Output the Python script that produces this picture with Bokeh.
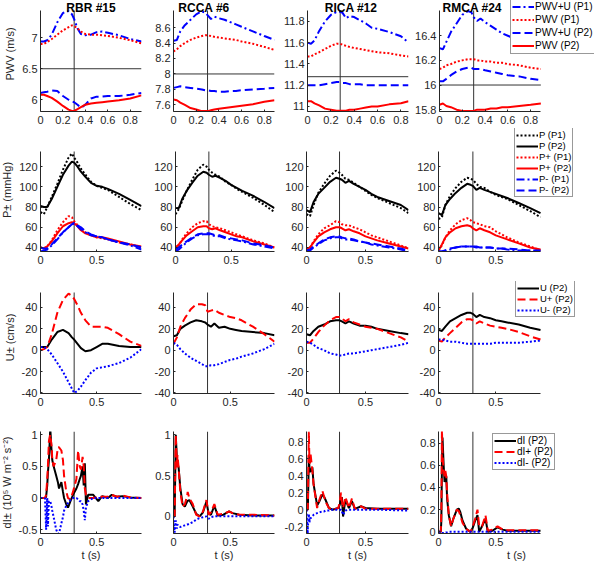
from bokeh.plotting import figure
from bokeh.layouts import row, column
from bokeh.models import (Range1d, FixedTicker, CustomJSTickFormatter, Label,
                          Legend, LegendItem)
from bokeh.embed import file_html
from bokeh.resources import INLINE

# ---------------- data ----------------
NAMES = ["RBR #15", "RCCA #6", "RICA #12", "RMCA #24"]
T_END = [0.9, 0.89, 0.865, 0.89]
T_MARK = [0.3, 0.3, 0.28, 0.3]
T_GRID = [0, .03, .06, .1, .15, .2, .25, .28, .3, .33, .36, .4, .45, .5, .55, .6, .7, .8]

# Row 1: PWV (m/s)
PWV_RANGE = [(5.81, 7.44), (7.515, 8.82), (10.953, 11.902), (15.785, 16.605)]
PWV_TICKS = [[6, 6.5, 7], [7.6, 7.8, 8, 8.2, 8.4, 8.6], [11, 11.2, 11.4, 11.6, 11.8],
             [15.8, 16, 16.2, 16.4]]
PWV_REF = [6.5, 8.0, 11.28, 16.0]
pwvu_p1 = [
    [6.94, 6.94, 6.96, 7.05, 7.25, 7.40, 7.43, 7.38, 7.30, 7.15, 7.06, 7.04, 7.05, 7.09, 7.10, 7.08, 7.04, 6.98, 6.94],
    [8.43, 8.44, 8.55, 8.63, 8.70, 8.77, 8.81, 8.79, 8.76, 8.71, 8.74, 8.72, 8.70, 8.67, 8.64, 8.61, 8.55, 8.49, 8.44],
    [11.60, 11.59, 11.62, 11.71, 11.80, 11.86, 11.89, 11.89, 11.88, 11.83, 11.85, 11.84, 11.81, 11.78, 11.74, 11.73, 11.70, 11.66, 11.60],
    [16.30, 16.29, 16.35, 16.43, 16.50, 16.57, 16.60, 16.59, 16.55, 16.52, 16.54, 16.51, 16.48, 16.45, 16.42, 16.40, 16.36, 16.32, 16.29],
]
pwv_p1 = [
    [6.90, 6.90, 6.93, 6.98, 7.05, 7.12, 7.17, 7.20, 7.19, 7.15, 7.10, 7.06, 7.05, 7.05, 7.04, 7.03, 7.00, 6.96, 6.91],
    [8.29, 8.32, 8.36, 8.40, 8.44, 8.47, 8.49, 8.50, 8.50, 8.49, 8.48, 8.47, 8.46, 8.45, 8.44, 8.42, 8.39, 8.35, 8.31],
    [11.47, 11.47, 11.49, 11.51, 11.54, 11.57, 11.59, 11.59, 11.58, 11.57, 11.56, 11.55, 11.54, 11.53, 11.52, 11.51, 11.50, 11.48, 11.47],
    [16.13, 16.14, 16.16, 16.17, 16.19, 16.20, 16.21, 16.21, 16.21, 16.20, 16.20, 16.19, 16.19, 16.18, 16.18, 16.17, 16.16, 16.14, 16.13],
]
pwvu_p2 = [
    [6.11, 6.12, 6.13, 6.15, 6.14, 6.06, 6.00, 5.97, 5.96, 5.92, 5.87, 5.92, 6.02, 6.05, 6.05, 6.06, 6.06, 6.08, 6.11],
    [7.82, 7.83, 7.84, 7.83, 7.82, 7.81, 7.80, 7.79, 7.79, 7.78, 7.78, 7.77, 7.77, 7.78, 7.78, 7.79, 7.80, 7.81, 7.82],
    [11.20, 11.20, 11.20, 11.20, 11.21, 11.22, 11.23, 11.23, 11.22, 11.22, 11.21, 11.21, 11.21, 11.20, 11.20, 11.20, 11.20, 11.20, 11.20],
    [16.03, 16.03, 16.05, 16.08, 16.11, 16.13, 16.14, 16.14, 16.13, 16.13, 16.13, 16.12, 16.11, 16.10, 16.09, 16.08, 16.07, 16.05, 16.04],
]
pwv_p2 = [
    [6.08, 6.08, 6.06, 6.03, 5.97, 5.90, 5.84, 5.82, 5.82, 5.85, 5.88, 5.92, 5.94, 5.95, 5.96, 5.97, 5.99, 6.02, 6.07],
    [7.67, 7.66, 7.63, 7.60, 7.56, 7.54, 7.52, 7.52, 7.52, 7.53, 7.54, 7.55, 7.56, 7.57, 7.58, 7.59, 7.61, 7.64, 7.66],
    [11.05, 11.05, 11.03, 11.01, 10.98, 10.97, 10.96, 10.96, 10.96, 10.96, 10.97, 10.97, 10.98, 10.99, 11.00, 11.00, 11.02, 11.03, 11.05],
    [15.84, 15.85, 15.83, 15.82, 15.80, 15.79, 15.79, 15.79, 15.79, 15.80, 15.80, 15.80, 15.81, 15.81, 15.82, 15.82, 15.83, 15.84, 15.85],
]

# Row 2: P± (mmHg)
P_RANGE = (36, 135)
P_TICKS = [40, 60, 80, 100, 120]
p_p1 = [
    [75, 73, 80, 90, 103, 117, 129, 133, 129, 124, 118, 112, 105, 101, 99, 97, 90, 83, 77],
    [73, 78, 86, 96, 107, 117, 122, 120, 117, 114, 112, 110, 105, 102, 98, 95, 89, 82, 75],
    [73, 71, 82, 94, 103, 111, 116, 114, 112, 108, 107, 104, 100, 96, 92, 89, 84, 79, 74],
    [68, 70, 82, 91, 99, 105, 109, 108, 107, 103, 100, 99, 95, 92, 90, 88, 82, 76, 70],
]
p_p2 = [
    [81, 80, 80, 88, 100, 112, 121, 125, 124, 120, 115, 110, 104, 101, 100, 98, 93, 87, 81],
    [79, 79, 88, 96, 104, 111, 115, 114, 112, 110, 111, 109, 106, 102, 99, 96, 91, 85, 79],
    [77, 75, 85, 93, 99, 105, 109, 108, 107, 104, 106, 103, 100, 97, 93, 90, 86, 82, 77],
    [74, 72, 82, 88, 94, 99, 103, 102, 101, 97, 99, 97, 95, 93, 91, 89, 84, 79, 74],
]
pf_p1 = [
    [40, 39, 41, 47, 57, 65, 71, 70, 66, 62, 58, 55, 52, 50, 49, 48, 45, 43, 40],
    [38, 42, 48, 54, 60, 64, 66, 66, 63, 61, 60, 59, 57, 55, 53, 51, 47, 44, 40],
    [38, 40, 46, 53, 59, 62, 66, 65, 63, 62, 62, 60, 58, 55, 52, 50, 46, 42, 39],
    [37, 42, 50, 57, 63, 67, 69, 67, 65, 64, 63, 61, 60, 56, 53, 50, 45, 41, 37],
]
pf_p2 = [
    [40, 39, 41, 46, 54, 61, 64, 65, 64, 61, 57, 54, 52, 50, 50, 49, 46, 43, 41],
    [40, 43, 47, 52, 56, 60, 61, 61, 59, 58, 59, 57, 55, 53, 51, 50, 46, 43, 40],
    [38, 40, 45, 51, 55, 58, 60, 60, 59, 57, 58, 56, 54, 51, 49, 47, 44, 41, 39],
    [37, 43, 50, 55, 59, 61, 62, 61, 59, 57, 59, 57, 55, 52, 50, 48, 44, 40, 38],
]
pb_p1 = [
    [36, 37, 38, 42, 48, 55, 60, 63, 64, 61, 58, 55, 52, 51, 50, 48, 45, 42, 38],
    [36, 38, 41, 45, 49, 52, 53, 53, 53, 52, 51, 51, 49, 48, 47, 46, 43, 41, 39],
    [36, 37, 40, 43, 47, 49, 50, 50, 49, 48, 48, 47, 46, 45, 43, 42, 40, 38, 36],
    [36, 36, 37, 38, 40, 41, 41, 41, 41, 40, 40, 40, 40, 39, 39, 38, 37, 37, 36],
]
pb_p2 = [
    [40, 39, 39, 43, 49, 55, 60, 63, 64, 62, 60, 56, 53, 51, 50, 48, 45, 43, 40],
    [38, 40, 43, 46, 50, 53, 54, 54, 54, 53, 52, 52, 50, 49, 48, 47, 44, 42, 40],
    [37, 38, 41, 44, 48, 50, 51, 51, 50, 49, 49, 48, 46, 45, 44, 43, 41, 39, 37],
    [36, 36, 37, 39, 40, 41, 41, 41, 41, 41, 40, 40, 40, 39, 39, 39, 38, 37, 37],
]

# Row 3: U± (cm/s)
U_RANGE = (-40.5, 54)
U_TICKS = [-40, -20, 0, 20, 40]
u_p2 = [
    [3, 3, 3, 10, 17, 19, 16, 12, 10, 6, 2, -1, 0, 3, 6, 6, 4, 3, 3],
    [13, 14, 20, 23, 26, 28, 27, 26, 24, 22, 25, 21, 22, 20, 19, 18, 17, 16, 14],
    [15, 14, 18, 22, 24, 27, 28, 28, 27, 25, 27, 25, 23, 23, 22, 20, 18, 16, 15],
    [19, 18, 22, 27, 30, 33, 35, 35, 34, 31, 33, 31, 30, 28, 27, 26, 24, 21, 19],
]
uf_p2 = [
    [0, 1, 3, 15, 35, 47, 53, 51, 48, 42, 35, 28, 22, 22, 22, 21, 15, 8, 4],
    [6, 12, 22, 30, 38, 43, 43, 42, 36, 37, 38, 35, 33, 31, 30, 28, 22, 15, 8],
    [7, 7, 11, 17, 23, 28, 31, 31, 30, 27, 29, 26, 24, 22, 21, 20, 16, 12, 8],
    [9, 8, 12, 16, 21, 26, 29, 29, 28, 25, 27, 25, 23, 22, 21, 20, 17, 13, 10],
]
ub_p2 = [
    [3, 3, 1, -4, -12, -20, -30, -36, -40, -38, -34, -28, -21, -17, -16, -15, -12, -7, 1],
    [7, 5, 1, -3, -7, -10, -13, -15, -15, -14, -14, -13, -11, -9, -8, -6, -3, 1, 6],
    [8, 7, 5, 2, 0, -3, -4, -5, -5, -4, -3, -3, -2, -1, 0, 1, 3, 5, 7],
    [10, 10, 9, 8, 8, 7, 6, 6, 6, 6, 6, 6, 6, 7, 7, 7, 7, 8, 9],
]

# Row 4: dI± (10^5 W m^-2 s^-2)
DI_RANGE = [(-0.56, 1.05), (-0.21, 1.04), (-0.28, 0.92), (-0.015, 0.905)]
DI_TICKS = [[-0.5, 0, 0.5, 1], [0, 0.5, 1], [-0.2, 0, 0.2, 0.4, 0.6, 0.8],
            [0, 0.2, 0.4, 0.6, 0.8]]
di_t = [
    [0, .04, .05, .06, .066, .075, .087, .1, .105, .117, .14, .155, .165, .186, .2, .21, .23, .245,
     .267, .29, .32, .335, .35, .36, .375, .385, .395, .405, .425, .47, .515, .55, .6, .635, .68,
     .73, .8, .9],
    [0, .01, .015, .02, .03, .035, .045, .06, .08, .1, .12, .125, .14, .17, .2, .23, .26, .29, .31,
     .33, .36, .39, .44, .49, .52, .58, .7, .89],
    [0, .01, .012, .02, .025, .03, .035, .05, .06, .09, .11, .135, .15, .16, .19, .22, .27, .28,
     .293, .3, .31, .33, .36, .385, .41, .465, .5, .6, .865],
    [0, .02, .025, .03, .035, .045, .053, .06, .068, .075, .09, .1, .11, .13, .16, .176, .19, .21,
     .24, .25, .28, .3, .32, .34, .355, .38, .41, .43, .47, .515, .56, .6, .89],
]
di_p2 = [
    [0, 0, 0.02, 0.2, 0.4, 0.6, 1.1, 0.7, 0.6, 0.5, 0.35, 0.25, 0.15, 0.25, 0.1, 0.0, -0.1, -0.15,
     -0.05, 0.05, 0.15, 0.22, 0.3, 0.35, 0.5, 0.2, 0.55, -0.1, 0.05, 0.05, -0.05, 0.03, 0.0, 0.05,
     0.02, 0.03, 0.01, 0],
    [0, 0, 0.5, 1.0, 0.7, 0.65, 0.6, 0.35, 0.15, 0.12, 0.18, 0.19, 0.2, 0.12, 0.03, 0.0, 0.05, 0.18,
     0.03, 0.02, 0.13, 0.01, 0.02, 0.06, 0.04, 0.02, 0.01, 0.01],
    [0, 0, 0.05, 0.63, 0.5, 0.45, 0.45, 0.5, 0.3, 0.05, 0.1, 0.18, 0.15, 0.12, 0.02, 0.0, 0.02, 0.05,
     0.12, 0.15, -0.08, 0.12, 0.02, 0.1, 0.01, 0.04, 0.02, 0.01, 0.01],
    [0, 0, 0.1, 0.6, 0.85, 0.6, 0.45, 0.48, 0.5, 0.3, 0.15, 0.1, 0.05, 0.12, 0.2, 0.21, 0.18, 0.1,
     0.03, 0.02, 0.0, 0.04, 0.1, 0.15, 0.0, 0.05, 0.12, 0.0, 0.01, 0.04, 0.02, 0.01, 0.01],
]
dif_p2 = [
    [0, 0, 0.05, 0.3, 0.5, 0.9, 1.0, 0.8, 0.6, 0.5, 0.6, 0.8, 0.8, 0.75, 0.6, 0.35, 0.1, 0.0,
     -0.02, 0.1, 0.3, 0.75, 0.5, 0.45, 0.65, 0.5, 0.15, 0.05, 0.0, 0.0, 0.02, 0.02, 0.02, 0.05,
     0.02, 0.04, 0.01, 0],
    [0, 0, 0.5, 1.0, 0.6, 0.75, 0.6, 0.3, 0.12, 0.15, 0.25, 0.3, 0.22, 0.15, 0.02, 0.0, 0.06, 0.2,
     0.02, 0.05, 0.15, 0.02, 0.03, 0.06, 0.04, 0.02, 0.02, 0.01],
    [0, 0, 0.1, 0.92, 0.55, 0.55, 0.65, 0.45, 0.3, 0.02, 0.12, 0.22, 0.15, 0.1, 0.02, 0.0, 0.02,
     0.08, 0.2, 0.1, 0.02, 0.15, 0.02, 0.13, 0.01, 0.04, 0.01, 0.01, 0.01],
    [0, 0, 0.2, 0.92, 0.7, 0.55, 0.5, 0.55, 0.5, 0.35, 0.15, 0.1, 0.05, 0.12, 0.2, 0.19, 0.15, 0.08,
     0.03, 0.02, 0.0, 0.05, 0.12, 0.2, 0.05, 0.05, 0.15, 0.01, 0.02, 0.05, 0.02, 0.015, 0.015],
]
dib_p2 = [
    [0, 0, -0.5, 0, -0.45, -0.05, -0.05, -0.15, -0.2, -0.3, -0.5, -0.56, -0.56, -0.4, -0.3, -0.2,
     -0.12, -0.08, -0.03, 0, 0, -0.02, -0.05, -0.05, -0.1, -0.2, -0.35, -0.15, -0.05, 0, 0, 0, 0,
     0, 0, 0, 0, 0],
    [0, -0.2, -0.1, -0.05, -0.15, -0.1, -0.12, -0.13, -0.12, -0.11, -0.1, -0.1, -0.09, -0.07, -0.04,
     -0.02, -0.01, 0, -0.03, -0.01, 0, 0, 0, 0, 0, 0, 0, 0],
    [0, -0.28, -0.2, -0.05, -0.15, -0.1, -0.1, -0.08, -0.06, -0.04, -0.03, -0.02, -0.02, -0.01,
     -0.01, 0, 0, 0, 0, -0.02, -0.06, -0.01, 0, 0, 0, 0, 0, 0, -0.01],
    [0, 0, -0.01, -0.01, -0.01, -0.01, -0.01, -0.01, -0.005, -0.005, 0, 0, 0, 0, 0, 0, 0, 0, 0, 0,
     0, 0, 0, 0, 0, 0, 0, 0, 0, 0, 0, 0, 0],
]

# ---------------- layout / style ----------------
FONT = "Liberation Sans"
TXT = "#262626"
BLUE, RED, BLACK = "#0000ff", "#ff0000", "#000000"
DOT, DASH, DASHDOT = "2 2", "8 4", "8 3 2 3"

COL_W = [155, 129, 132, 184]
COL_L = [44, 22, 26, 26]
COL_R = [10, 6, 4, 2]
COL4_DATA_W = 102          # width of the data area of the last column
ROW_H = [132, 143, 143, 149]
ROW_T = [14, 23, 21, 17]
ROW_B = [17, 20, 21, 29]
EXTRA_TOP = [14, 23, 11, 0]  # room kept above the data (titles / legends)
TITLE_OFF = [0, -20, -7, -18]

fmt = CustomJSTickFormatter(code="return String(Math.round(tick*1000)/1000);")


def make_fig(r, c, yr, yticks, xticks):
    frame_w = COL_W[c] - COL_L[c] - COL_R[c]
    data_w = COL4_DATA_W if c == 3 else frame_w
    data_h = ROW_H[r] - ROW_T[r] - ROW_B[r]
    frame_h = data_h + EXTRA_TOP[r]
    x_hi = T_END[c] * frame_w / data_w
    y_hi = yr[0] + (yr[1] - yr[0]) * frame_h / data_h
    p = figure(width=COL_W[c], height=ROW_H[r], output_backend="svg", toolbar_location=None,
               title=None, x_range=Range1d(0, x_hi), y_range=Range1d(yr[0], y_hi),
               min_border_left=COL_L[c], min_border_right=COL_R[c],
               min_border_top=ROW_T[r] - EXTRA_TOP[r], min_border_bottom=ROW_B[r])
    p.outline_line_color = None
    p.grid.visible = False
    p.border_fill_color = "white"
    for ax in (p.xaxis[0], p.yaxis[0]):
        ax.axis_line_color = TXT
        ax.major_tick_line_color = TXT
        ax.major_tick_in = 2
        ax.major_tick_out = 0
        ax.minor_tick_line_color = None
        ax.major_label_text_font = FONT
        ax.major_label_text_font_size = "11px"
        ax.major_label_text_color = TXT
        ax.axis_label_text_font = FONT
        ax.axis_label_text_font_size = "11px"
        ax.axis_label_text_font_style = "normal"
        ax.axis_label_text_color = TXT
        ax.formatter = fmt
    p.xaxis[0].ticker = FixedTicker(ticks=xticks)
    p.yaxis[0].ticker = FixedTicker(ticks=yticks)
    p.xaxis[0].bounds = (0, T_END[c])
    p.yaxis[0].bounds = (yr[0], yr[1])
    p.xaxis[0].major_label_standoff = 4
    p.yaxis[0].major_label_standoff = 3
    p.xaxis[0].axis_label_standoff = 0
    p.yaxis[0].axis_label_standoff = 3
    p.segment(x0=[T_MARK[c]], y0=[yr[0]], x1=[T_MARK[c]], y1=[yr[1]],
              line_color="#333333", line_width=1)
    return p, data_w, data_h


def add_legend(p, items, loc, h, size="10px"):
    leg = Legend(items=[LegendItem(label=l, renderers=[rr]) for l, rr in items], location=loc,
                 label_text_font=FONT, label_text_font_size=size, label_text_color=BLACK,
                 glyph_width=22, glyph_height=h, label_height=h, label_standoff=1,
                 spacing=0, padding=1, margin=0, border_line_color="#333333",
                 border_line_width=1, background_fill_color="white", background_fill_alpha=1)
    p.add_layout(leg)


rows = []
# Row 1
figs = []
for c in range(4):
    t = T_GRID + [T_END[c]]
    yr = PWV_RANGE[c]
    p, data_w, data_h = make_fig(0, c, yr, PWV_TICKS[c], [0, 0.2, 0.4, 0.6, 0.8])
    px_x = data_w / T_END[c]
    px_y = data_h / (yr[1] - yr[0])
    p.add_layout(Label(x=T_END[c] / 2 + TITLE_OFF[c] / px_x, y=yr[1] + 3 / px_y,
                       text=NAMES[c], text_align="center", text_baseline="alphabetic",
                       text_font=FONT, text_font_size="12px", text_font_style="bold",
                       text_color=BLACK))
    p.segment(x0=[0], y0=[PWV_REF[c]], x1=[T_END[c]], y1=[PWV_REF[c]],
              line_color="#333333", line_width=1)
    r1 = p.line(t, pwvu_p1[c], color=BLUE, line_width=2, line_dash=DASHDOT)
    r2 = p.line(t, pwv_p1[c], color=RED, line_width=2, line_dash=DOT)
    r3 = p.line(t, pwvu_p2[c], color=BLUE, line_width=2, line_dash=DASH)
    r4 = p.line(t, pwv_p2[c], color=RED, line_width=2)
    if c == 0:
        p.yaxis[0].axis_label = "PWV (m/s)"
    if c == 3:
        add_legend(p, [("PWV+U (P1)", r1), ("PWV (P1)", r2), ("PWV+U (P2)", r3), ("PWV (P2)", r4)],
                   (71, 57), 13)
    figs.append(p)
rows.append(row(*figs))

# Row 2
figs = []
for c in range(4):
    t = T_GRID + [T_END[c]]
    p, _, _ = make_fig(1, c, P_RANGE, P_TICKS, [0, 0.5])
    r1 = p.line(t, p_p1[c], color=BLACK, line_width=2, line_dash=DOT)
    r2 = p.line(t, p_p2[c], color=BLACK, line_width=2)
    r3 = p.line(t, pf_p1[c], color=RED, line_width=2, line_dash=DOT)
    r4 = p.line(t, pf_p2[c], color=RED, line_width=2)
    r5 = p.line(t, pb_p1[c], color=BLUE, line_width=2, line_dash=DASHDOT)
    r6 = p.line(t, pb_p2[c], color=BLUE, line_width=2, line_dash=DASH)
    if c == 0:
        p.yaxis[0].axis_label = "P± (mmHg)"
    if c == 3:
        add_legend(p, [("P (P1)", r1), ("P (P2)", r2), ("P+ (P1)", r3), ("P+ (P2)", r4),
                       ("P- (P1)", r5), ("P- (P2)", r6)], (76, 54), 10, "9.5px")
    figs.append(p)
rows.append(row(*figs))

# Row 3
figs = []
for c in range(4):
    t = T_GRID + [T_END[c]]
    p, _, _ = make_fig(2, c, U_RANGE, U_TICKS, [0, 0.5])
    r1 = p.line(t, u_p2[c], color=BLACK, line_width=2)
    r2 = p.line(t, uf_p2[c], color=RED, line_width=2, line_dash=DASH)
    r3 = p.line(t, ub_p2[c], color=BLUE, line_width=2, line_dash=DOT)
    if c == 0:
        p.yaxis[0].axis_label = "U± (cm/s)"
    if c == 3:
        add_legend(p, [("U (P2)", r1), ("U+ (P2)", r2), ("U- (P2)", r3)], (77, 76), 10, "9.5px")
    figs.append(p)
rows.append(row(*figs))

# Row 4
figs = []
for c in range(4):
    p, _, _ = make_fig(3, c, DI_RANGE[c], DI_TICKS[c], [0, 0.5])
    r1 = p.line(di_t[c], di_p2[c], color=BLACK, line_width=2)
    r2 = p.line(di_t[c], dif_p2[c], color=RED, line_width=2, line_dash=DASH)
    r3 = p.line(di_t[c], dib_p2[c], color=BLUE, line_width=2, line_dash=DOT)
    p.xaxis[0].axis_label = "t (s)"
    if c == 0:
        p.yaxis[0].axis_label = "dI± (10⁵ W m⁻² s⁻²)"
    if c == 3:
        add_legend(p, [("dI (P2)", r1), ("dI+ (P2)", r2), ("dI- (P2)", r3)], (54, 63), 11)
    figs.append(p)
rows.append(row(*figs))

layout = column(*rows, margin=(-4, -4, -4, -4))

with open("out.html", "w") as f:
    f.write(file_html(layout, INLINE, "PWV"))
